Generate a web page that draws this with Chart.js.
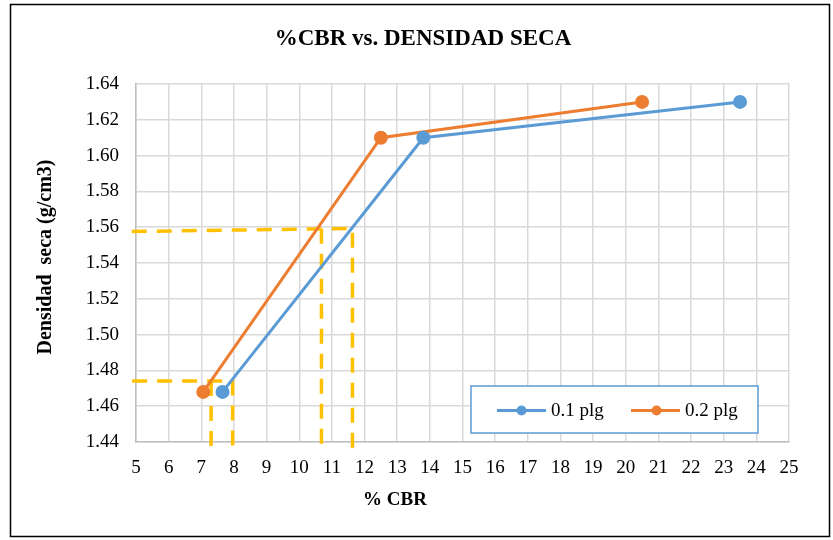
<!DOCTYPE html>
<html>
<head>
<meta charset="utf-8">
<script src="https://cdn.jsdelivr.net/npm/chart.js@4"></script>
<style>
  body { margin: 0; background: #fff; }
</style>
</head>
<body>
<canvas id="chart" width="833" height="540"></canvas>
<script>
// Ensayo CBR: % CBR contra densidad seca
const cbr01 = [7.65, 13.8, 23.5];       // penetración 0.1 plg
const dens01 = [1.468, 1.61, 1.63];
const cbr02 = [7.06, 12.5, 20.5];       // penetración 0.2 plg
const dens02 = [1.468, 1.61, 1.63];

// líneas guía (lectura del CBR al 95% y 100%)
const guideUpX = [4.87, 11.63, 11.63];
const guideUpY = [1.5576, 1.5593, 1.4366];
const guideUpInX = [10.68, 10.68];
const guideUpInY = [1.5591, 1.4366];
const guideLowX = [4.88, 7.96, 7.96];
const guideLowY = [1.4741, 1.4741, 1.4366];
const guideLowInX = [7.30, 7.30];
const guideLowInY = [1.4741, 1.4366];

const seriesNames = ['0.1 plg', '0.2 plg'];
const blue = '#5B9BD5';
const orange = '#ED7D31';
const yellow = '#FFC000';
const serif = '"Liberation Serif", "Times New Roman", serif';

const toPoints = (xs, ys) => xs.map((x, i) => ({ x: x, y: ys[i] }));

function guide(xs, ys) {
  return {
    data: toPoints(xs, ys),
    showLine: true,
    borderColor: yellow,
    borderWidth: 3.5,
    borderDash: [15, 10],
    pointRadius: 0,
    clip: false
  };
}

// fondo, marco, títulos de ejes y leyenda
const decor = {
  id: 'decor',
  beforeDraw(chart) {
    const ctx = chart.ctx;
    ctx.save();
    ctx.fillStyle = '#fff';
    ctx.fillRect(0, 0, chart.width, chart.height);
    ctx.restore();
  },
  afterDraw(chart) {
    const ctx = chart.ctx;
    ctx.save();
    ctx.strokeStyle = '#000';
    ctx.lineWidth = 1.5;
    ctx.strokeRect(10.5, 4.5, 819, 532);

    ctx.fillStyle = '#000';
    ctx.font = 'bold 19px ' + serif;
    ctx.textAlign = 'center';
    ctx.textBaseline = 'middle';
    ctx.fillText('% CBR', 395, 500);

    ctx.save();
    ctx.translate(46, 257);
    ctx.rotate(-Math.PI / 2);
    ctx.font = 'bold 20px ' + serif;
    ctx.fillText('Densidad  seca (g/cm3)', 0, 0);
    ctx.restore();

    // leyenda
    ctx.fillStyle = '#fff';
    ctx.fillRect(471, 386, 287, 47);
    ctx.strokeStyle = blue;
    ctx.lineWidth = 1.5;
    ctx.strokeRect(471, 386, 287, 47);

    const items = [
      { x0: 497, x1: 546, dot: 521.5, tx: 551, color: blue, text: seriesNames[0] },
      { x0: 631, x1: 680, dot: 656.5, tx: 685, color: orange, text: seriesNames[1] }
    ];
    ctx.font = '19px ' + serif;
    ctx.textAlign = 'left';
    items.forEach(it => {
      ctx.strokeStyle = it.color;
      ctx.lineWidth = 3;
      ctx.beginPath();
      ctx.moveTo(it.x0, 410.5);
      ctx.lineTo(it.x1, 410.5);
      ctx.stroke();
      ctx.fillStyle = it.color;
      ctx.beginPath();
      ctx.arc(it.dot, 410.5, 5, 0, Math.PI * 2);
      ctx.fill();
      ctx.fillStyle = '#000';
      ctx.fillText(it.text, it.tx, 411);
    });
    ctx.restore();
  }
};

new Chart(document.getElementById('chart'), {
  type: 'scatter',
  data: {
    datasets: [
      {
        label: seriesNames[0],
        data: toPoints(cbr01, dens01),
        showLine: true,
        borderColor: blue,
        backgroundColor: blue,
        borderWidth: 3,
        pointRadius: 5.5,
        pointHoverRadius: 5.5
      },
      {
        label: seriesNames[1],
        data: toPoints(cbr02, dens02),
        showLine: true,
        borderColor: orange,
        backgroundColor: orange,
        borderWidth: 3,
        pointRadius: 5.5,
        pointHoverRadius: 5.5
      },
      guide(guideUpX, guideUpY),
      guide(guideUpInX, guideUpInY),
      guide(guideLowX, guideLowY),
      guide(guideLowInX, guideLowInY)
    ]
  },
  options: {
    responsive: false,
    animation: false,
    layout: { padding: { left: 17, right: 4, top: 4, bottom: 3 } },
    plugins: {
      legend: { display: false },
      tooltip: { enabled: false },
      title: {
        display: true,
        text: '%CBR vs. DENSIDAD SECA',
        color: '#000',
        font: { family: serif, size: 23, weight: 'bold' },
        padding: { top: 21.5, bottom: 30.9 }
      }
    },
    scales: {
      x: {
        type: 'linear',
        min: 5,
        max: 25,
        ticks: {
          stepSize: 1,
          color: '#000',
          padding: 15,
          font: { family: serif, size: 19 }
        },
        grid: { color: '#d9d9d9', lineWidth: 1.5, drawTicks: false },
        border: { color: '#bfbfbf', width: 1.5 },
        afterFit(scale) { scale.height = 95; }
      },
      y: {
        min: 1.44,
        max: 1.64,
        ticks: {
          stepSize: 0.02,
          color: '#000',
          padding: 17,
          font: { family: serif, size: 19 },
          callback: v => v.toFixed(2)
        },
        grid: { color: '#d9d9d9', lineWidth: 1.5, drawTicks: false },
        border: { color: '#bfbfbf', width: 1.5 },
        afterFit(scale) { scale.width = 119; }
      },
      yRight: {
        position: 'right',
        ticks: { display: false },
        grid: { display: false },
        border: { display: false },
        afterFit(scale) { scale.width = 40; }
      }
    }
  },
  plugins: [decor]
});
</script>
</body>
</html>
